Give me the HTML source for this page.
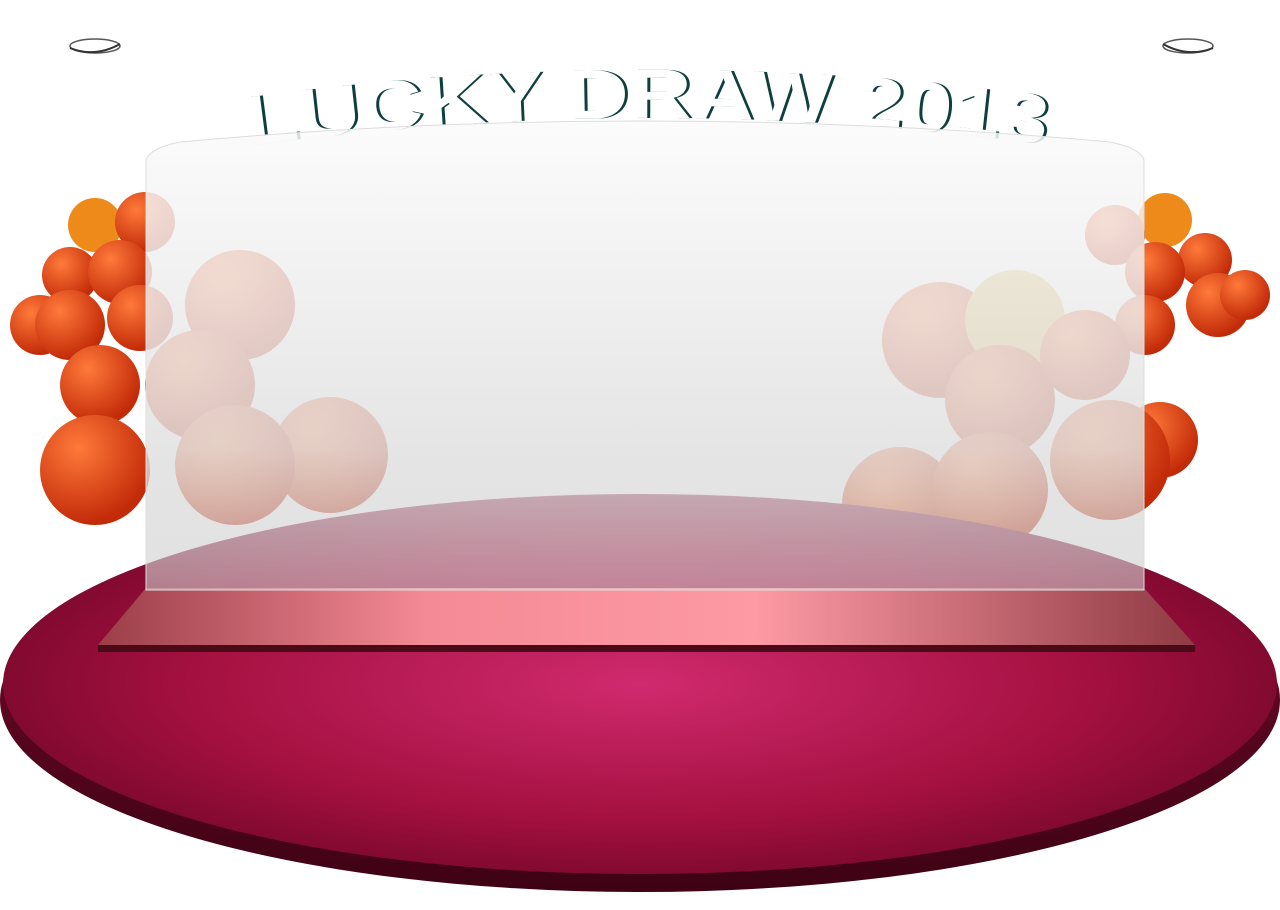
<!DOCTYPE html>
<html><head><meta charset="utf-8"><style>
html,body{margin:0;padding:0;background:#fff;width:1280px;height:910px;overflow:hidden}
svg{display:block}
</style></head><body>
<svg width="1280" height="910" viewBox="0 0 1280 910">
<defs>
<radialGradient id="top" cx="0.5" cy="0.5" r="0.6">
<stop offset="0" stop-color="#d02a6e"/><stop offset="0.6" stop-color="#a3103f"/><stop offset="1" stop-color="#6a0525"/>
</radialGradient>
<linearGradient id="side" x1="0" y1="0" x2="0" y2="1"><stop offset="0" stop-color="#7a0a2c"/><stop offset="1" stop-color="#3e0214"/></linearGradient>
<linearGradient id="glass" x1="0" y1="0" x2="0" y2="1">
<stop offset="0" stop-color="#fbfbfb"/><stop offset="0.7" stop-color="#e0e0e0"/><stop offset="1" stop-color="#cfcfcf" stop-opacity="0.7"/>
</linearGradient>
<linearGradient id="plate" x1="0" y1="0" x2="1" y2="0">
<stop offset="0" stop-color="#9b3e48"/><stop offset="0.3" stop-color="#f48a95"/><stop offset="0.6" stop-color="#fd9aa4"/><stop offset="1" stop-color="#8f3a44"/>
</linearGradient>
<radialGradient id="bal" cx="0.35" cy="0.3" r="0.7"><stop offset="0" stop-color="#ff7a3a"/><stop offset="1" stop-color="#c22a08"/></radialGradient>
<path id="arc" d="M248,146 Q650,90 1055,146"/>
</defs>
<g><ellipse cx="95" cy="46" rx="25" ry="7" fill="#fff" stroke="#555" stroke-width="1.5"/><path d="M70,48 Q95,58 120,44" fill="none" stroke="#333" stroke-width="2"/></g>
<g><ellipse cx="1188" cy="46" rx="25" ry="7" fill="#fff" stroke="#555" stroke-width="1.5"/><path d="M1163,44 Q1188,58 1213,48" fill="none" stroke="#333" stroke-width="2"/></g>
<text font-family="Liberation Sans, sans-serif" font-weight="bold" font-size="70" fill="#0e3f3f"><textPath href="#arc" textLength="800" lengthAdjust="spacingAndGlyphs" startOffset="3">LUCKY DRAW 2013</textPath></text>
<text font-family="Liberation Sans, sans-serif" font-weight="bold" font-size="70" fill="#fff"><textPath href="#arc" textLength="800" lengthAdjust="spacingAndGlyphs">LUCKY DRAW 2013</textPath></text>
<g>
<circle cx="95" cy="225" r="27" fill="#ee8a1a"/><circle cx="145" cy="222" r="30" fill="url(#bal)"/>
<circle cx="70" cy="275" r="28" fill="url(#bal)"/><circle cx="120" cy="272" r="32" fill="url(#bal)"/>
<circle cx="40" cy="325" r="30" fill="url(#bal)"/><circle cx="70" cy="325" r="35" fill="url(#bal)"/><circle cx="140" cy="318" r="33" fill="url(#bal)"/>
<circle cx="100" cy="385" r="40" fill="url(#bal)"/><circle cx="95" cy="470" r="55" fill="url(#bal)"/>
<circle cx="240" cy="305" r="55" fill="url(#bal)"/><circle cx="200" cy="385" r="55" fill="url(#bal)"/><circle cx="330" cy="455" r="58" fill="url(#bal)"/><circle cx="235" cy="465" r="60" fill="url(#bal)"/>
</g>
<g>
<circle cx="1165" cy="220" r="27" fill="#ee8a1a"/><circle cx="1115" cy="235" r="30" fill="url(#bal)"/>
<circle cx="1205" cy="260" r="27" fill="url(#bal)"/><circle cx="1155" cy="272" r="30" fill="url(#bal)"/>
<circle cx="1218" cy="305" r="32" fill="url(#bal)"/><circle cx="1245" cy="295" r="25" fill="url(#bal)"/><circle cx="1145" cy="325" r="30" fill="url(#bal)"/>
<circle cx="1160" cy="440" r="38" fill="url(#bal)"/>
<circle cx="940" cy="340" r="58" fill="url(#bal)"/><circle cx="1015" cy="320" r="50" fill="#d8b850"/><circle cx="1000" cy="400" r="55" fill="url(#bal)"/><circle cx="1085" cy="355" r="45" fill="url(#bal)"/>
<circle cx="900" cy="505" r="58" fill="url(#bal)"/><circle cx="990" cy="490" r="58" fill="url(#bal)"/><circle cx="1110" cy="460" r="60" fill="url(#bal)"/>
</g>
<ellipse cx="640" cy="700" rx="640" ry="192" fill="url(#side)"/>
<ellipse cx="640" cy="684" rx="637" ry="190" fill="url(#top)"/>
<polygon points="146,588 1144,588 1195,645 98,645" fill="url(#plate)"/>
<polygon points="98,645 1195,645 1195,652 98,652" fill="#4a0a18"/>
<path d="M146,160 Q150,148 180,142 Q640,100 1110,142 Q1140,148 1144,160 L1144,590 L146,590 Z" fill="url(#glass)" fill-opacity="0.84" stroke="#ddd" stroke-width="1"/>
</svg>
</body></html>
